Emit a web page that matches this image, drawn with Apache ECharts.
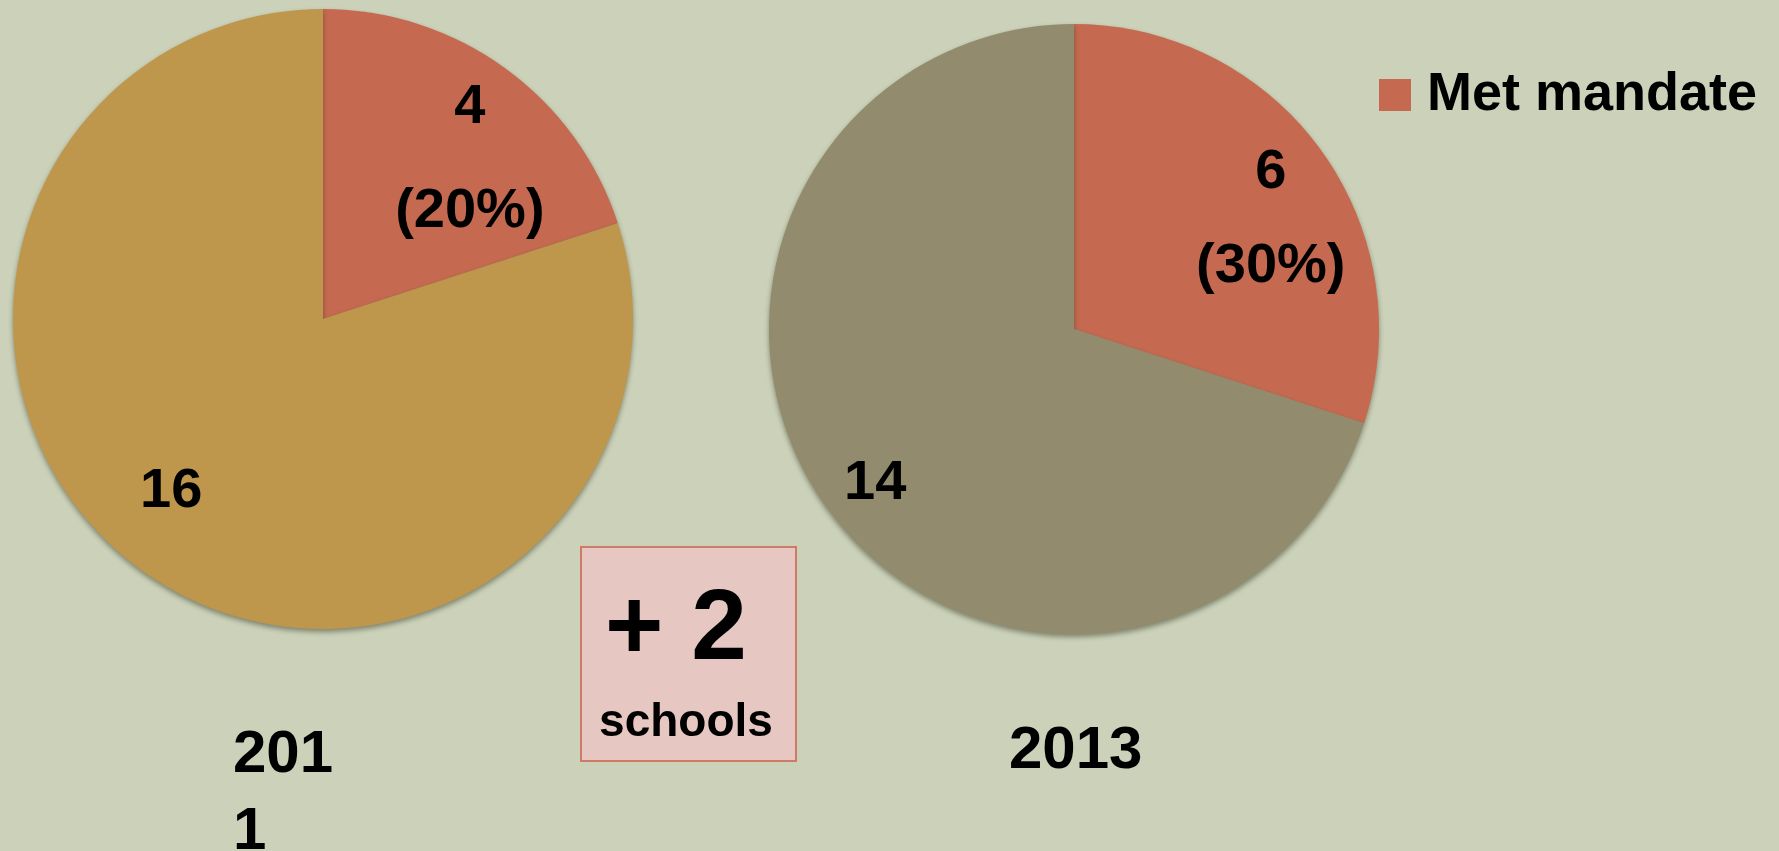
<!DOCTYPE html>
<html>
<head>
<meta charset="utf-8">
<script src="https://cdn.jsdelivr.net/npm/echarts@6/dist/echarts.min.js"></script>
<style>
  html, body { margin: 0; padding: 0; background: #CBD2B9; }
  #chart { width: 1779px; height: 851px; }
</style>
</head>
<body>
<div id="chart"></div>
<script>
// ---- data ----
const categories = ['2011', '2013'];
const sliceNames = ['Met mandate', 'Did not meet mandate'];
const metMandate = [4, 6];
const notMet = [16, 14];
const legendItems = ['Met mandate'];
const changeUnit = 'schools';

// ---- styles ----
const FONT = '"Liberation Sans", Arial, sans-serif';
const metColor = '#C56A50';
const otherColors = ['#BF974C', '#938B6E'];
const centers = [[323, 319], [1074, 329]];
const radii = [310, 305];
const labelLineHeights = [104, 94];
const labelOffsets = [
  [[54, -32], [-59, 45]],
  [[71, -18], [-73, 63]]
];

const chart = echarts.init(document.getElementById('chart'));

const series = categories.map((cat, i) => ({
  type: 'pie',
  name: cat,
  center: centers[i],
  radius: radii[i],
  startAngle: 90,
  clockwise: true,
  silent: true,
  animation: false,
  emphasis: { disabled: true },
  itemStyle: {
    borderWidth: 0,
    shadowColor: 'rgba(40,40,20,0.45)',
    shadowBlur: 5,
    shadowOffsetY: 3
  },
  label: {
    show: true,
    position: 'inside',
    color: '#000',
    fontFamily: FONT,
    fontWeight: 'bold',
    fontSize: 56,
    lineHeight: labelLineHeights[i],
    align: 'center',
    formatter: p => p.dataIndex === 0
      ? p.value + '\n(' + Math.round(p.percent) + '%)'
      : String(p.value)
  },
  labelLine: { show: false },
  labelLayout: p => ({ dx: labelOffsets[i][p.dataIndex][0], dy: labelOffsets[i][p.dataIndex][1] }),
  data: [
    { name: sliceNames[0], value: metMandate[i], itemStyle: { color: metColor } },
    { name: sliceNames[1], value: notMet[i], itemStyle: { color: otherColors[i] } }
  ]
}));

chart.setOption({
  backgroundColor: '#CBD2B9',
  animation: false,
  legend: {
    data: legendItems,
    left: 1374,
    top: 63,
    icon: 'rect',
    itemWidth: 32,
    itemHeight: 32,
    selectedMode: false,
    textStyle: {
      color: '#000',
      fontFamily: FONT,
      fontWeight: 'bold',
      fontSize: 54,
      padding: [0, 0, 0, 11]
    }
  },
  title: [
    {
      text: categories[0],
      left: 233,
      top: 717,
      padding: 0,
      textStyle: {
        color: '#000', fontFamily: FONT, fontWeight: 'bold', fontSize: 60,
        lineHeight: 77, width: 120, overflow: 'breakAll'
      }
    },
    {
      text: categories[1],
      left: 1009,
      top: 713,
      padding: 0,
      textStyle: {
        color: '#000', fontFamily: FONT, fontWeight: 'bold', fontSize: 60,
        lineHeight: 77
      }
    }
  ],
  graphic: [
    {
      type: 'rect',
      shape: { x: 581, y: 547, width: 215, height: 214 },
      style: { fill: '#E6C7C1', stroke: '#CF7A66', lineWidth: 2 },
      silent: true
    },
    {
      type: 'text',
      x: 676, y: 631,
      style: {
        text: '+ ' + (metMandate[1] - metMandate[0]),
        fill: '#000', font: 'bold 100px ' + FONT,
        textAlign: 'center', textVerticalAlign: 'middle'
      },
      silent: true
    },
    {
      type: 'text',
      x: 686, y: 723,
      style: {
        text: changeUnit,
        fill: '#000', font: 'bold 46px ' + FONT,
        textAlign: 'center', textVerticalAlign: 'middle'
      },
      silent: true
    }
  ],
  series: series
});
</script>
</body>
</html>
